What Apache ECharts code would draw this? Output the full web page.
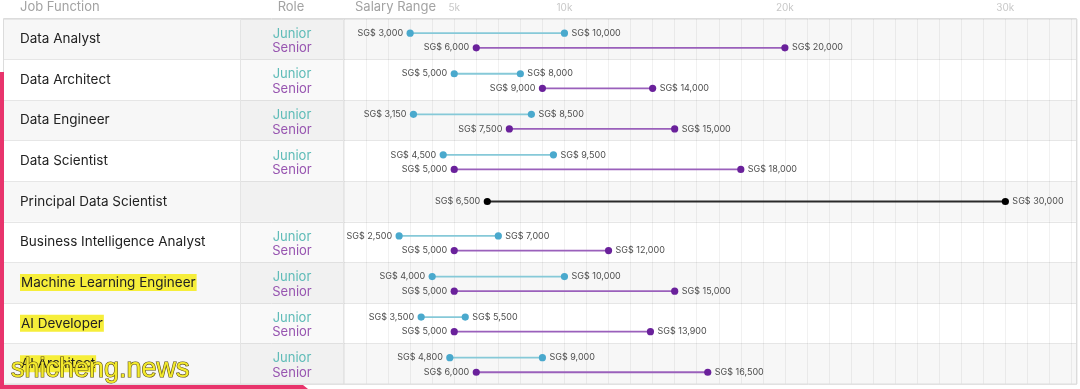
<!DOCTYPE html>
<html>
<head>
<meta charset="utf-8">
<script src="https://cdn.jsdelivr.net/npm/echarts@6/dist/echarts.min.js"></script>
<style>
html,body{margin:0;padding:0;background:#fff;}
#chart{width:1080px;height:389px;}
</style>
</head>
<body>
<div id="chart"></div>
<script>
// ---- data ----
var jobFunctions = ['Data Analyst','Data Architect','Data Engineer','Data Scientist','Principal Data Scientist','Business Intelligence Analyst','Machine Learning Engineer','AI Developer','AI Architect'];
var highlighted = ['Machine Learning Engineer','AI Developer','AI Architect'];
var hasRoles = [true,true,true,true,false,true,true,true,true];
var juniorMin = [3000,5000,3150,4500,null,2500,4000,3500,4800];
var juniorMax = [10000,8000,8500,9500,null,7000,10000,5500,9000];
var seniorMin = [6000,9000,7500,5000,null,5000,5000,5000,6000];
var seniorMax = [20000,14000,15000,18000,null,12000,15000,13900,16500];
var principalMin = [null,null,null,null,6500,null,null,null,null];
var principalMax = [null,null,null,null,30000,null,null,null,null];
var tickLabels = {5000:'5k',10000:'10k',20000:'20k',30000:'30k'};

var FONT = 'Inter, "Open Sans", sans-serif';

function buildData(mins, maxs, offset){
  var out = [];
  for (var i=0;i<mins.length;i++){
    if (mins[i] != null) out.push([mins[i], maxs[i], i + offset]);
  }
  return out;
}
function money(v){ return 'SG$ ' + v.toLocaleString('en-US'); }

function rangeRenderer(dotColor, lineColor){
  return function(params, api){
    var y = api.value(2);
    var p1 = api.coord([api.value(0), y]);
    var p2 = api.coord([api.value(1), y]);
    return {
      type:'group',
      children:[
        {type:'line', shape:{x1:p1[0],y1:p1[1],x2:p2[0],y2:p2[1]}, style:{stroke:lineColor, lineWidth:1.8}},
        {type:'circle', shape:{cx:p1[0],cy:p1[1],r:3.6}, style:{fill:dotColor}},
        {type:'circle', shape:{cx:p2[0],cy:p2[1],r:3.6}, style:{fill:dotColor}},
        {type:'text', style:{text:money(api.value(0)), x:p1[0]-7, y:p1[1], align:'right', verticalAlign:'middle', fill:'#4d4d4d', fontSize:9, fontFamily:FONT}},
        {type:'text', style:{text:money(api.value(1)), x:p2[0]+7, y:p2[1], align:'left', verticalAlign:'middle', fill:'#4d4d4d', fontSize:9, fontFamily:FONT}}
      ]
    };
  };
}

var TOP = 19, HEIGHT = 365;
var chart = echarts.init(document.getElementById('chart'), null, {renderer:'canvas'});
var option = {
  animation:false,
  backgroundColor:'#ffffff',
  grid:[
    {left:3, right:3, top:TOP, height:HEIGHT},
    {left:344, right:3, top:TOP, height:HEIGHT}
  ],
  xAxis:[
    {gridIndex:0, type:'value', min:0, max:1, show:false},
    {gridIndex:1, type:'value', min:0, max:33250, interval:1000, position:'top',
      axisLine:{show:false}, axisTick:{show:false},
      axisLabel:{show:true, margin:6, color:'#c8c8c8', fontSize:10, fontFamily:FONT,
        formatter:function(v){ return tickLabels[v] || ''; }},
      splitLine:{show:true, lineStyle:{color:'rgba(0,0,0,0.055)', width:1}},
      z:1}
  ],
  yAxis:[
    {gridIndex:0, type:'category', data:jobFunctions, inverse:true, position:'left',
      axisLine:{show:false}, axisTick:{show:false},
      axisLabel:{inside:true, margin:17, color:'#222', fontSize:13.5, fontFamily:FONT,
        formatter:function(v){ return highlighted.indexOf(v) >= 0 ? '{hl|' + v + '}' : v; },
        rich:{hl:{backgroundColor:'#f6ee3a', color:'#222', fontSize:13.5, fontFamily:FONT, padding:[2,1,1,1]}}},
      splitArea:{show:true, areaStyle:{color:['#f7f7f7','#ffffff']}},
      splitLine:{show:true, lineStyle:{color:'#e6e6e6'}},
      z:0},
    {gridIndex:0, type:'category', data:jobFunctions, inverse:true, position:'left',
      axisLine:{show:false}, axisTick:{show:false}, splitLine:{show:false},
      axisLabel:{inside:true, margin:289, align:'center', fontFamily:FONT, padding:[4,0,0,0],
        formatter:function(v, idx){ return hasRoles[idx] ? '{j|Junior}\n{s|Senior}' : ''; },
        rich:{j:{color:'#62c1bd', fontSize:13, lineHeight:14.5, fontFamily:FONT, align:'center'},
              s:{color:'#9b57b5', fontSize:13, lineHeight:14.5, fontFamily:FONT, align:'center'}}},
      z:2},
    {gridIndex:1, type:'value', min:0, max:9, inverse:true, show:false}
  ],
  graphic:[
    {type:'rect', z:5, silent:true, shape:{x:240, y:TOP, width:103, height:HEIGHT}, style:{fill:'rgba(0,0,0,0.022)'}},
    {type:'line', z:6, shape:{x1:240.5,y1:TOP,x2:240.5,y2:TOP+HEIGHT}, style:{stroke:'#e4e4e4', lineWidth:1}},
    {type:'line', z:6, shape:{x1:343.5,y1:TOP,x2:343.5,y2:TOP+HEIGHT}, style:{stroke:'#e4e4e4', lineWidth:1}},
    {type:'rect', z:6, shape:{x:3.5,y:18.5,width:1073,height:HEIGHT+0.5}, style:{fill:null, stroke:'#dcdcdc', lineWidth:1}},
    {type:'text', z:6, style:{text:'Job Function', x:20, y:7, verticalAlign:'middle', fill:'#a3a3a3', fontSize:13, fontFamily:FONT}},
    {type:'text', z:6, style:{text:'Role', x:291, y:7, align:'center', verticalAlign:'middle', fill:'#a3a3a3', fontSize:13, fontFamily:FONT}},
    {type:'text', z:6, style:{text:'Salary Range', x:355, y:7, verticalAlign:'middle', fill:'#a3a3a3', fontSize:13, fontFamily:FONT}},
    {type:'rect', z:20, shape:{x:0,y:72,width:4,height:317}, style:{fill:'#e8346c'}},
    {type:'polygon', z:20, shape:{points:[[0,385],[303,385],[308,389],[0,389]]}, style:{fill:'#e8346c'}},
    {type:'text', z:21, style:{text:'shicheng.news', x:11, y:370, verticalAlign:'middle', fill:'#f3ea2c', stroke:'#5b4d10', lineWidth:1.2, fontSize:27, fontFamily:'"Liberation Sans", Arial, sans-serif'}}
  ],
  series:[
    {type:'custom', name:'Junior', xAxisIndex:1, yAxisIndex:2, renderItem:rangeRenderer('#4aa9cd','#86c9d8'),
      data:buildData(juniorMin, juniorMax, 0.35), encode:{x:[0,1], y:2}, z:10},
    {type:'custom', name:'Senior', xAxisIndex:1, yAxisIndex:2, renderItem:rangeRenderer('#6a219b','#9a60bb'),
      data:buildData(seniorMin, seniorMax, 0.71), encode:{x:[0,1], y:2}, z:10},
    {type:'custom', name:'Principal', xAxisIndex:1, yAxisIndex:2, renderItem:rangeRenderer('#000000','#2a2a2a'),
      data:buildData(principalMin, principalMax, 0.5), encode:{x:[0,1], y:2}, z:10}
  ]
};
chart.setOption(option);
</script>
</body>
</html>
